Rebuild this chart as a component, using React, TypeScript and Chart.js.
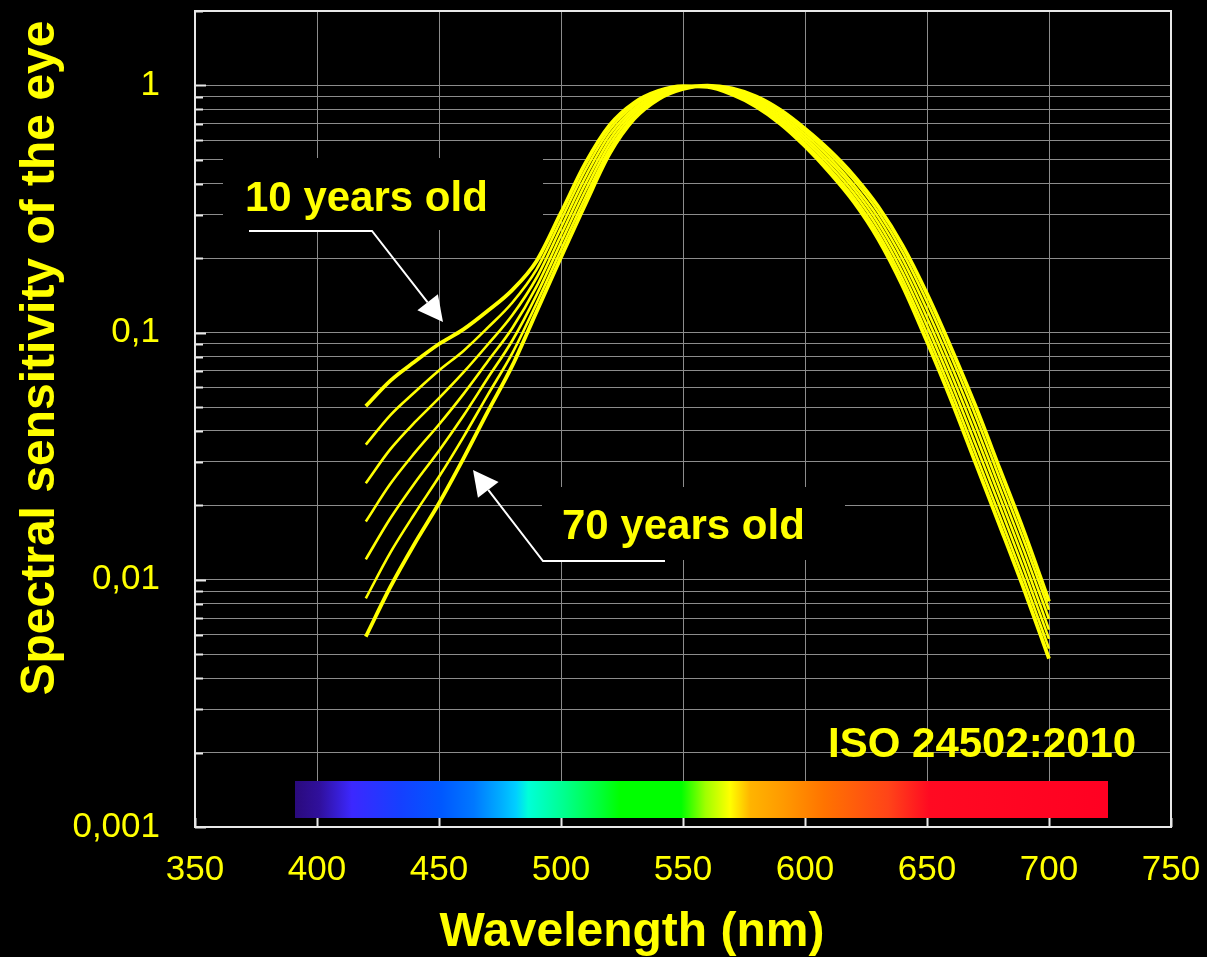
import React, { useEffect, useRef } from "react";
import { Chart, registerables } from "chart.js";

Chart.register(...registerables);

// ---- data ----
const wavelengths = [420, 430, 440, 450, 460, 470, 480, 490, 500, 510, 520, 530, 540, 550, 560, 570, 580, 590, 600, 610, 620, 630, 640, 650, 660, 670, 680, 690, 700];

const age10 = [0.0504, 0.0638, 0.0762, 0.0899, 0.103, 0.1225, 0.1486, 0.195, 0.3055, 0.4842, 0.6918, 0.8511, 0.9506, 0.9931, 0.9863, 0.9204, 0.8204, 0.6982, 0.5675, 0.4457, 0.3381, 0.2393, 0.1545, 0.092, 0.0531, 0.0295, 0.0164, 0.00902, 0.0048];
const age20 = [0.0352, 0.0463, 0.0574, 0.0703, 0.0843, 0.1047, 0.1321, 0.1803, 0.2851, 0.4545, 0.6622, 0.8299, 0.9386, 0.989, 0.9881, 0.929, 0.8334, 0.7133, 0.5831, 0.4611, 0.3521, 0.2517, 0.1645, 0.0991, 0.0576, 0.0322, 0.0179, 0.00986, 0.00527];
const age30 = [0.0246, 0.0337, 0.0433, 0.0543, 0.069, 0.0895, 0.1175, 0.1667, 0.2661, 0.4266, 0.6339, 0.8091, 0.9268, 0.9847, 0.9902, 0.9376, 0.8466, 0.7289, 0.5994, 0.4772, 0.3667, 0.2647, 0.1751, 0.1067, 0.0624, 0.0352, 0.0196, 0.01079, 0.00577];
const age40 = [0.0172, 0.0244, 0.0326, 0.0425, 0.0564, 0.0766, 0.1042, 0.1538, 0.2483, 0.4004, 0.6061, 0.7898, 0.9152, 0.9806, 0.992, 0.9462, 0.8601, 0.7447, 0.6158, 0.4937, 0.3819, 0.2783, 0.1864, 0.1149, 0.0677, 0.0385, 0.0214, 0.0118, 0.00629];
const age50 = [0.0121, 0.0177, 0.0246, 0.0333, 0.0461, 0.0655, 0.0927, 0.1422, 0.2317, 0.3758, 0.5794, 0.7709, 0.9036, 0.9766, 0.9938, 0.955, 0.8736, 0.7608, 0.6328, 0.5109, 0.396, 0.2926, 0.1984, 0.1238, 0.0734, 0.042, 0.0233, 0.01291, 0.00694];
const age60 = [0.00841, 0.01285, 0.0185, 0.0261, 0.0378, 0.056, 0.0824, 0.1315, 0.2163, 0.3528, 0.5546, 0.7516, 0.8922, 0.9723, 0.9959, 0.9638, 0.8876, 0.7774, 0.6504, 0.5287, 0.4143, 0.3077, 0.2112, 0.1333, 0.0796, 0.0459, 0.0254, 0.01413, 0.00757];
const age70 = [0.00589, 0.00933, 0.014, 0.0204, 0.0309, 0.0479, 0.0733, 0.1216, 0.2018, 0.3311, 0.5309, 0.7328, 0.881, 0.9683, 0.9977, 0.9727, 0.9016, 0.7943, 0.6683, 0.547, 0.4315, 0.3236, 0.2249, 0.1436, 0.0863, 0.0501, 0.0278, 0.01545, 0.00818];

const seriesNames = ["10 years old", "20 years old", "30 years old", "40 years old", "50 years old", "60 years old", "70 years old"];
const seriesValues = [age10, age20, age30, age40, age50, age60, age70];

const xTickValues = [350, 400, 450, 500, 550, 600, 650, 700, 750];
const yTickValues = [
  0.001, 0.002, 0.003, 0.004, 0.005, 0.006, 0.007, 0.008, 0.009,
  0.01, 0.02, 0.03, 0.04, 0.05, 0.06, 0.07, 0.08, 0.09,
  0.1, 0.2, 0.3, 0.4, 0.5, 0.6, 0.7, 0.8, 0.9,
  1, 2,
];
const yLabelValues = [0.001, 0.01, 0.1, 1];
const yTickLabels = ["0,001", "0,01", "0,1", "1"];

const xTitle = "Wavelength (nm)";
const yTitle = "Spectral sensitivity of the eye";
const youngLabel = "10 years old";
const oldLabel = "70 years old";
const standardLabel = "ISO 24502:2010";

// ---- styles ----
const FONT = '"Liberation Sans", Arial, Helvetica, sans-serif';
const YELLOW = "#ffff00";
const GRID = "#8c8c8c";

const spectrumStops: [number, string][] = [
  [0.0, "#2a0a7c"],
  [0.03, "#30109c"],
  [0.07, "#3c28ff"],
  [0.13, "#1540ff"],
  [0.18, "#0058ff"],
  [0.22, "#0078ff"],
  [0.255, "#00b0ff"],
  [0.272, "#00d0ff"],
  [0.287, "#00ffd8"],
  [0.33, "#00ff90"],
  [0.375, "#00ff38"],
  [0.4, "#00ff00"],
  [0.475, "#00ff00"],
  [0.505, "#a0ff00"],
  [0.535, "#ffff00"],
  [0.56, "#ffb400"],
  [0.6, "#ff9a00"],
  [0.65, "#ff7400"],
  [0.73, "#ff4418"],
  [0.78, "#ff0a22"],
  [1.0, "#ff0022"],
];

function drawArrow(ctx: CanvasRenderingContext2D, pts: number[][]) {
  const n = pts.length;
  const [tx, ty] = pts[n - 1];
  const [px, py] = pts[n - 2];
  const dx = tx - px;
  const dy = ty - py;
  const len = Math.hypot(dx, dy);
  const ux = dx / len;
  const uy = dy / len;
  const headLen = 25;
  const half = 13;
  const bx = tx - ux * headLen;
  const by = ty - uy * headLen;
  ctx.strokeStyle = "#ffffff";
  ctx.fillStyle = "#ffffff";
  ctx.lineWidth = 2;
  ctx.beginPath();
  ctx.moveTo(pts[0][0], pts[0][1]);
  for (let i = 1; i < n - 1; i++) ctx.lineTo(pts[i][0], pts[i][1]);
  ctx.lineTo(bx, by);
  ctx.stroke();
  ctx.beginPath();
  ctx.moveTo(tx, ty);
  ctx.lineTo(bx - uy * half, by + ux * half);
  ctx.lineTo(bx + uy * half, by - ux * half);
  ctx.closePath();
  ctx.fill();
}

const decorPlugin = {
  id: "decor",
  beforeDatasetsDraw(chart: any) {
    const { ctx, chartArea: a, scales } = chart;
    const xs = scales.x;
    const ys = scales.y;
    ctx.save();
    // black label boxes over the grid
    ctx.fillStyle = "#000000";
    ctx.fillRect(223, 158, 320, 72);
    ctx.fillRect(542, 487, 303, 73);

    // frame
    ctx.strokeStyle = "#e8e8e8";
    ctx.lineWidth = 2;
    ctx.strokeRect(a.left, a.top, a.right - a.left, a.bottom - a.top);

    // inner tick marks
    ctx.lineWidth = 2;
    for (const v of yTickValues) {
      const py = Math.round(ys.getPixelForValue(v)) + 0.5;
      const major = yLabelValues.some((m) => Math.abs(m - v) < m * 1e-6);
      ctx.beginPath();
      ctx.moveTo(a.left, py);
      ctx.lineTo(a.left + (major ? 11 : 8), py);
      ctx.stroke();
    }
    for (const v of xTickValues) {
      const px = Math.round(xs.getPixelForValue(v)) + 0.5;
      ctx.beginPath();
      ctx.moveTo(px, a.bottom);
      ctx.lineTo(px, a.bottom - 9);
      ctx.stroke();
    }

    // spectrum colour bar
    const x0 = 295;
    const x1 = 1108;
    const g = ctx.createLinearGradient(x0, 0, x1, 0);
    for (const [o, c] of spectrumStops) g.addColorStop(o, c);
    ctx.fillStyle = g;
    ctx.fillRect(x0, a.bottom - 46, x1 - x0, 37);
    ctx.restore();
  },
  afterDatasetsDraw(chart: any) {
    const { ctx } = chart;
    ctx.save();
    // annotation labels
    ctx.fillStyle = YELLOW;
    ctx.font = `bold 42px ${FONT}`;
    ctx.textBaseline = "alphabetic";
    ctx.textAlign = "left";
    ctx.fillText(youngLabel, 245, 211);
    ctx.fillText(oldLabel, 562, 539);
    ctx.fillText(standardLabel, 828, 757);

    drawArrow(ctx, [[249, 231], [372, 231], [443, 322]]);
    drawArrow(ctx, [[665, 561], [543, 561], [473, 470]]);

    // axis titles
    ctx.fillStyle = YELLOW;
    ctx.font = `bold 48px ${FONT}`;
    ctx.textAlign = "center";
    ctx.fillText(xTitle, 632, 946);
    ctx.translate(54, 358);
    ctx.rotate(-Math.PI / 2);
    ctx.fillText(yTitle, 0, 0);
    ctx.restore();
  },
};

export default function App() {
  const canvasRef = useRef<HTMLCanvasElement | null>(null);

  useEffect(() => {
    document.body.style.margin = "0";
    document.body.style.background = "#000";
    const canvas = canvasRef.current;
    if (!canvas) return;

    const datasets = seriesValues.map((vals, si) => ({
      label: seriesNames[si],
      data: wavelengths.map((w, i) => ({ x: w, y: vals[i] })),
      borderColor: YELLOW,
      backgroundColor: YELLOW,
      borderWidth: si === 0 || si === seriesValues.length - 1 ? 3.8 : 2.6,
      pointRadius: 0,
      fill: false,
      cubicInterpolationMode: "monotone" as const,
    }));

    const chart = new Chart(canvas, {
      type: "line",
      data: { datasets },
      options: {
        responsive: false,
        maintainAspectRatio: false,
        animation: false,
        layout: { padding: { top: 11, right: 36, left: 0, bottom: 0 } },
        plugins: {
          legend: { display: false },
          tooltip: { enabled: false },
          title: { display: false },
        },
        scales: {
          x: {
            type: "linear",
            min: 350,
            max: 750,
            afterBuildTicks: (s: any) => {
              s.ticks = xTickValues.map((v) => ({ value: v }));
            },
            afterFit: (s: any) => {
              s.height = 130;
              s.paddingLeft = 0;
              s.paddingRight = 0;
              s.paddingTop = 0;
              s.paddingBottom = 0;
            },
            grid: { color: GRID, lineWidth: 1, drawTicks: false },
            border: { display: false },
            ticks: {
              color: YELLOW,
              font: { family: FONT, size: 35 },
              padding: 22,
              maxRotation: 0,
              autoSkip: false,
              callback: (v: any) => String(v),
            },
          },
          y: {
            type: "logarithmic",
            min: 0.001,
            max: 2,
            afterBuildTicks: (s: any) => {
              s.ticks = yTickValues.map((v) => ({ value: v }));
            },
            afterFit: (s: any) => {
              s.width = 195;
              s.paddingLeft = 0;
              s.paddingRight = 0;
              s.paddingTop = 0;
              s.paddingBottom = 0;
            },
            grid: { color: GRID, lineWidth: 1, drawTicks: false },
            border: { display: false },
            ticks: {
              color: YELLOW,
              font: { family: FONT, size: 35 },
              padding: 35,
              autoSkip: false,
              callback: (v: any) => {
                const idx = yLabelValues.findIndex((m) => Math.abs(m - Number(v)) < m * 1e-6);
                return idx >= 0 ? yTickLabels[idx] : "";
              },
            },
          },
        },
      },
      plugins: [decorPlugin],
    });

    return () => {
      chart.destroy();
    };
  }, []);

  return (
    <div style={{ position: "fixed", left: 0, top: 0, width: 1207, height: 957, background: "#000" }}>
      <canvas ref={canvasRef} width={1207} height={957} style={{ display: "block" }} />
    </div>
  );
}
